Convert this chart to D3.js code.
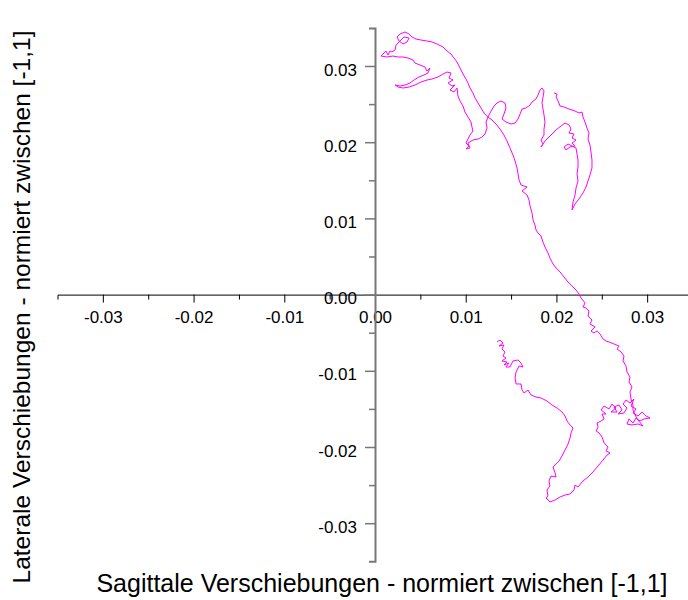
<!DOCTYPE html>
<html>
<head>
<meta charset="utf-8">
<script src="https://cdn.jsdelivr.net/npm/d3@7"></script>
<style>
  body { margin: 0; background: #fff; }
  text { font-family: "Liberation Sans", Arial, sans-serif; }
</style>
</head>
<body>
<svg id="chart" width="688" height="600"></svg>
<script>
// displacement trace, values in units of 0.001
const sagittal = [
  13.45,13.78,14.11,13.67,14.22,14.00,14.33,14.11,14.44,14.00,14.55,14.22,14.77,14.44,14.88,15.21,15.77,16.10,16.32,15.88,
  15.55,15.44,15.55,16.10,16.21,16.43,16.87,17.20,17.75,18.30,18.96,19.51,20.07,20.62,20.95,21.17,21.50,21.83,21.61,21.50,
  21.28,20.95,20.62,20.29,19.85,19.62,19.85,19.96,19.40,19.18,19.29,18.96,19.07,18.85,19.29,19.85,20.40,20.95,21.50,21.94,
  22.05,22.38,22.93,23.48,24.03,24.59,25.14,25.58,25.91,25.47,25.69,25.25,25.03,24.70,24.37,24.59,24.48,24.92,25.25,25.03,
  25.47,24.92,25.25,25.80,26.13,26.57,26.02,26.68,26.35,26.90,27.23,26.79,27.45,27.78,27.34,27.67,28.11,28.55,28.22,28.78,
  28.44,29.00,29.44,29.88,30.32,29.66,29.22,28.78,28.44,28.00,27.78,28.33,29.00,29.55,28.89,28.44,28.44,28.22,28.11,28.33,
  28.00,28.11,27.78,27.67,27.34,27.45,27.12,26.68,26.90,26.35,25.80,25.47,25.14,24.81,24.48,24.14,23.81,24.26,23.70,23.92,
  23.48,23.59,23.26,22.93,23.15,22.71,22.49,22.16,21.72,21.28,20.84,20.40,19.96,19.62,19.29,19.07,18.74,18.52,18.30,17.97,
  17.75,17.64,17.42,17.31,17.09,16.98,16.76,16.21,16.76,16.10,15.88,15.77,15.66,15.44,15.21,14.88,14.55,14.22,13.78,13.34,
  12.90,12.46,12.02,11.69,11.36,11.03,10.80,10.47,10.25,10.03,9.70,9.48,9.26,9.04,8.71,8.38,7.94,7.50,6.84,6.28,
  5.73,5.07,4.52,4.08,3.75,3.31,2.76,2.43,2.65,3.09,3.53,3.75,3.20,2.76,2.32,2.21,1.87,1.65,1.43,1.21,
  0.88,0.66,1.32,1.98,2.54,3.09,3.64,4.19,4.41,4.96,5.51,5.73,6.06,5.84,5.40,4.85,4.30,3.86,3.31,2.76,
  2.21,2.54,3.09,3.75,4.41,5.07,5.73,6.28,6.95,7.50,7.94,8.38,8.16,8.60,8.05,8.49,8.82,8.27,8.71,9.04,
  9.15,9.37,9.70,9.92,10.25,10.58,10.69,10.80,10.47,10.25,10.03,10.36,10.03,10.47,10.25,10.80,11.36,11.80,12.13,12.35,
  12.24,12.46,12.79,13.12,13.45,13.89,14.33,14.44,14.22,14.00,14.44,14.99,15.44,15.77,15.99,16.21,16.65,17.09,17.31,17.75,
  17.97,18.19,18.41,18.63,18.52,18.41,18.52,18.63,18.74,18.63,18.63,18.30,18.52,18.30,18.74,19.18,19.62,20.07,20.51,20.95,
  21.39,21.61,21.39,21.94,21.72,22.16,21.72,22.05,21.50,21.06,20.84,21.28,21.72,22.16,22.27,22.38,22.38,22.27,22.38,22.16,
  22.05,21.83,21.72,22.05,22.49,22.93,23.26,23.48,23.70,23.92,23.92,23.81,23.70,23.48,23.59,23.37,23.15,22.93,22.82,22.49,
  22.05,21.39,20.84,20.40,20.18,19.96,20.07,19.74
];
const lateral = [
  -6.22,-5.96,-6.35,-6.75,-6.61,-7.14,-7.53,-8.06,-8.32,-8.71,-8.84,-9.24,-8.98,-9.50,-9.50,-8.71,-8.58,-8.98,-9.50,-9.37,
  -10.16,-10.94,-11.73,-11.73,-12.52,-12.91,-12.52,-13.18,-13.44,-13.57,-13.96,-14.49,-14.88,-15.41,-15.93,-16.59,-17.11,-17.51,-18.16,-18.82,
  -19.61,-20.39,-21.18,-21.84,-22.36,-22.62,-23.41,-23.94,-23.81,-24.46,-25.12,-25.64,-26.43,-26.69,-27.22,-26.95,-26.56,-26.30,-26.17,-25.64,
  -24.99,-25.25,-24.46,-23.94,-23.28,-22.49,-21.71,-21.05,-20.79,-20.52,-20.00,-19.47,-18.69,-18.16,-17.90,-17.37,-16.85,-16.59,-16.32,-15.67,
  -15.67,-15.14,-14.62,-15.01,-14.36,-14.88,-15.41,-15.41,-14.75,-14.49,-15.14,-15.67,-15.54,-14.88,-14.36,-13.83,-14.23,-13.70,-14.62,-15.01,
  -15.54,-15.93,-15.41,-15.93,-16.19,-16.32,-16.59,-16.19,-16.85,-16.32,-16.98,-17.11,-16.98,-17.24,-16.32,-15.14,-14.49,-13.70,-12.78,-12.13,
  -11.47,-10.81,-10.16,-9.37,-8.71,-8.06,-7.53,-7.14,-6.75,-6.48,-6.22,-6.09,-5.83,-5.17,-4.78,-5.04,-4.78,-4.25,-3.86,-3.33,
  -2.81,-2.15,-1.76,-1.63,-1.10,-0.45,0.08,0.60,1.13,1.65,2.31,2.97,3.49,4.02,4.80,5.46,6.25,6.90,7.69,8.08,
  8.48,9.13,9.79,10.71,11.63,12.41,13.07,13.60,14.12,14.38,15.04,15.83,16.61,17.53,18.32,19.24,20.16,20.94,21.73,22.39,
  22.91,23.31,23.83,24.49,25.14,25.80,26.46,27.11,27.77,28.29,28.95,29.47,30.00,30.52,31.05,31.57,31.97,32.49,32.89,33.15,
  33.28,33.41,33.54,33.81,34.20,34.46,34.20,33.81,33.28,32.89,33.15,33.67,33.81,33.28,32.75,32.10,31.84,31.97,31.44,31.97,
  31.57,31.31,31.18,31.31,31.18,31.18,31.05,30.79,30.39,30.13,29.87,29.34,29.74,29.08,28.82,28.56,28.16,27.77,27.51,27.37,
  27.51,27.24,27.11,27.24,27.51,27.90,28.16,28.29,28.56,28.95,29.21,29.08,28.42,28.16,27.77,27.37,27.51,26.85,26.59,27.11,
  26.06,25.41,24.75,23.96,23.31,22.65,21.99,21.47,20.94,20.42,19.89,19.50,19.11,19.24,19.89,20.29,20.42,20.68,21.08,21.86,
  22.65,23.31,24.09,24.75,25.14,25.41,25.14,24.49,23.70,23.04,22.65,22.39,22.52,23.04,23.70,24.36,24.49,24.88,25.27,25.67,
  26.19,26.85,27.11,26.72,25.93,25.14,24.36,23.57,22.65,21.73,20.94,20.29,19.76,19.37,20.16,20.68,21.21,21.73,22.13,22.52,
  22.26,21.73,21.21,21.08,20.55,20.29,19.89,19.50,19.37,18.98,19.37,19.76,19.50,19.24,18.45,17.66,16.75,15.83,14.91,13.99,
  13.07,12.15,11.10,11.89,12.55,13.33,14.12,14.91,15.70,16.61,17.66,18.71,19.63,20.42,21.21,21.86,22.65,23.31,23.96,23.83,
  24.09,24.36,24.62,24.75,25.41,25.93,26.32,26.46
];
const majorTicks = [-0.03, -0.02, -0.01, 0, 0.01, 0.02, 0.03];
const minorTicks = [-0.025, -0.015, -0.005, 0.005, 0.015, 0.025];
const xLabel = "Sagittale Verschiebungen - normiert zwischen [-1,1]";
const yLabel = "Laterale Verschiebungen - normiert zwischen [-1,1]";

const svg = d3.select("#chart");
// plain hyphen for negatives, like the original
const fmt = d => d3.format(".2f")(d).replace("\u2212", "-");

// scales, both axes run -0.035 .. 0.035
const x = d3.scaleLinear().domain([-0.035, 0.035]).range([57.5, 692.5]);
const y = d3.scaleLinear().domain([-0.035, 0.035]).range([561.3, 27.9]);
const x0 = x(0), y0 = y(0);

// x axis through the origin
const xMinor = svg.append("g")
  .attr("transform", "translate(0," + y0 + ")")
  .call(d3.axisBottom(x).tickValues(minorTicks).tickSize(5).tickSizeOuter(0).tickFormat(""));
xMinor.select(".domain").remove();
const xAxis = svg.append("g")
  .attr("transform", "translate(0," + y0 + ")")
  .call(d3.axisBottom(x).tickValues(majorTicks).tickSize(8).tickSizeOuter(5).tickFormat(fmt));
xAxis.selectAll("text").attr("y", 28.5).attr("dy", null)
  .style("font-size", "17px").attr("fill", "#000");

// y axis through the origin (grey)
const yMinor = svg.append("g")
  .attr("transform", "translate(" + x0 + ",0)")
  .call(d3.axisLeft(y).tickValues(minorTicks).tickSize(6).tickSizeOuter(0).tickFormat(""));
yMinor.select(".domain").remove();
yMinor.selectAll("line").attr("stroke", "#777").attr("stroke-width", 1.5);
const yAxis = svg.append("g")
  .attr("transform", "translate(" + x0 + ",0)")
  .call(d3.axisLeft(y).tickValues(majorTicks).tickSize(10).tickSizeOuter(6).tickFormat(fmt));
yAxis.select(".domain").attr("stroke", "#777").attr("stroke-width", 2);
yAxis.selectAll("line").attr("stroke", "#777").attr("stroke-width", 1.5);
yAxis.selectAll("text").attr("x", -18).attr("dy", "9").attr("y", 0)
  .style("font-size", "17px").attr("fill", "#000");

// trace
const pts = sagittal.map((d, i) => [d / 1000, lateral[i] / 1000]);
svg.append("path")
  .datum(pts)
  .attr("fill", "none")
  .attr("stroke", "#ff00ff")
  .attr("stroke-width", 1)
  .attr("d", d3.line().x(d => x(d[0])).y(d => y(d[1])));

// axis titles
svg.append("text")
  .attr("x", 382).attr("y", 592)
  .attr("text-anchor", "middle")
  .style("font-size", "25px")
  .text(xLabel);
svg.append("text")
  .attr("transform", "translate(30,307) rotate(-90)")
  .attr("text-anchor", "middle")
  .style("font-size", "24.5px")
  .text(yLabel);
</script>
</body>
</html>
